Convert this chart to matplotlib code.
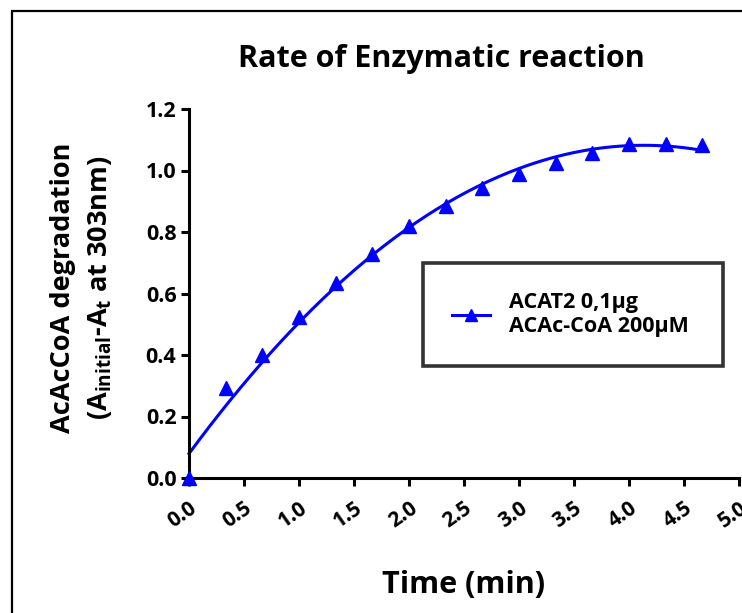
import numpy as np
import matplotlib
matplotlib.use("Agg")
import matplotlib.pyplot as plt
from matplotlib.patches import Rectangle

plt.rcParams['font.family'] = ['Open Sans', 'DejaVu Sans']
plt.rcParams['font.weight'] = 'bold'
plt.rcParams['mathtext.fontset'] = 'custom'
plt.rcParams['mathtext.rm'] = 'Open Sans:bold'
plt.rcParams['mathtext.bf'] = 'Open Sans:bold'
plt.rcParams['mathtext.it'] = 'Open Sans:bold'

# Data
time_min = [0.0, 1/3, 2/3, 1.0, 4/3, 5/3, 2.0, 7/3, 8/3, 3.0, 10/3, 11/3, 4.0, 13/3, 14/3]
degradation = [0.0, 0.293, 0.40, 0.525, 0.633, 0.728, 0.818, 0.886, 0.942, 0.989,
               1.026, 1.056, 1.086, 1.085, 1.084]
x_ticks = [0.0, 0.5, 1.0, 1.5, 2.0, 2.5, 3.0, 3.5, 4.0, 4.5, 5.0]
y_ticks = [0.0, 0.2, 0.4, 0.6, 0.8, 1.0, 1.2]
series_label = "ACAT2 0,1\u00b5g\nACAc-CoA 200\u00b5M"

W, H = 742, 613
AX_L, AX_R, AX_T, AX_B = 189, 739, 109, 478
fig = plt.figure(figsize=(W/100, H/100), dpi=100)
ax = fig.add_axes([AX_L/W, 1-AX_B/H, (AX_R-AX_L)/W, (AX_B-AX_T)/H])

blue = '#0000FF'
# second-order polynomial fit of the data
coef = np.polyfit(time_min, degradation, 2)
xs = np.linspace(min(time_min), max(time_min), 200)
ax.plot(xs, np.polyval(coef, xs), color=blue, lw=2.2, clip_on=False)
ax.plot(time_min, degradation, linestyle='none', marker='^', ms=10, color=blue,
        clip_on=False, zorder=5)
# legend handle
ax.plot([], [], color=blue, lw=2.2, marker='^', ms=8, label=series_label)

ax.set_xlim(0, 5)
ax.set_ylim(0, 1.2)
ax.set_xticks(x_ticks)
ax.set_yticks(y_ticks)
ax.set_xticklabels([f"{v:.1f}" for v in x_ticks], rotation=35, ha='right',
                   rotation_mode='anchor', fontsize=15, fontweight='bold')
ax.set_yticklabels([f"{v:.1f}" for v in y_ticks], fontsize=15.5, fontweight='bold')
for s in ['top', 'right']:
    ax.spines[s].set_visible(False)
for s in ['left', 'bottom']:
    ax.spines[s].set_linewidth(2.2)
ax.tick_params(axis='y', width=2.2, length=6, direction='out', pad=3)
ax.tick_params(axis='x', width=2.2, length=6, direction='out', pad=8)

# legend box: x 423..723, top 263 (pixels)
def fx(px):
    return (px - AX_L) / (AX_R - AX_L)
def fy(py):
    return (AX_B - py) / (AX_B - AX_T)
leg = ax.legend(loc='upper left', bbox_to_anchor=(fx(423), fy(366), fx(723) - fx(423), fy(263) - fy(366)),
                mode='expand', frameon=True, fancybox=False, fontsize=15.5, borderpad=1.35,
                handlelength=1.75, handletextpad=0.9, labelspacing=0.15, borderaxespad=0)
leg.get_frame().set_edgecolor('black')
leg.get_frame().set_linewidth(2.6)

fig.text(441/W, 1-67/H, "Rate of Enzymatic reaction", ha='center', va='baseline',
         fontsize=22, fontweight='bold')
fig.text(464/W, 1-593/H, "Time (min)", ha='center', va='baseline',
         fontsize=22, fontweight='bold')
fig.text(63/W, 1-288/H, "AcAcCoA degradation", ha='center', va='center',
         rotation=90, fontsize=19.5, fontweight='bold')
fig.text(100/W, 1-288/H, r"(A$_{\mathrm{initial}}$-A$_{\mathrm{t}}$ at 303nm)",
         ha='center', va='center', rotation=90, fontsize=19.5, fontweight='bold')

fig.patches.append(Rectangle((11.5/W, -0.1), 1.2, 1-11/H+0.1, transform=fig.transFigure,
                             fill=False, edgecolor='black', lw=1.6))

fig.savefig("out.png", dpi=100)
